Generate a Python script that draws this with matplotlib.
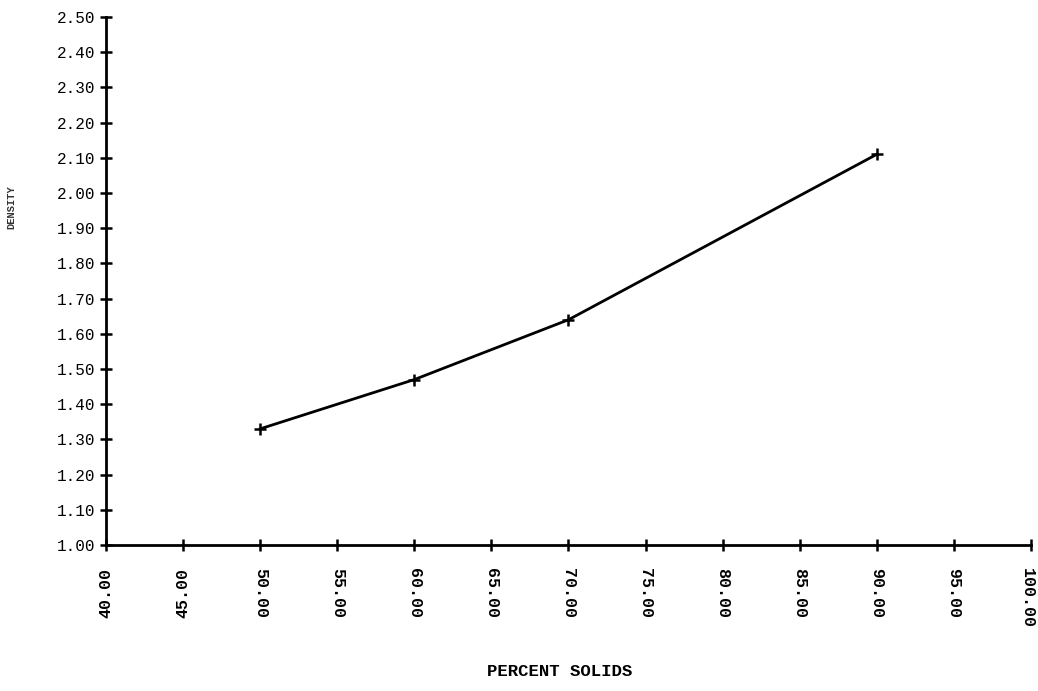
import matplotlib
matplotlib.use("Agg")
import matplotlib.pyplot as plt
import matplotlib.transforms as mtransforms
import numpy as np

# Slurry density versus percent solids
percent_solids = [50.0, 60.0, 70.0, 90.0]
density = [1.33, 1.47, 1.64, 2.11]

x_ticks = [40, 45, 50, 55, 60, 65, 70, 75, 80, 85, 90, 95, 100]
y_ticks = [1.00, 1.10, 1.20, 1.30, 1.40, 1.50, 1.60, 1.70, 1.80, 1.90,
           2.00, 2.10, 2.20, 2.30, 2.40, 2.50]

x_title = "PERCENT SOLIDS"
y_title = "DENSITY"

mono = "Liberation Mono"

fig = plt.figure(figsize=(10.38, 6.91), dpi=100)
ax = fig.add_axes([106 / 1038, 146 / 691, (1031 - 106) / 1038, (545 - 17) / 691])

ax.plot(percent_solids, density, color="black", lw=2.0,
        marker="+", markersize=9, markeredgewidth=1.8, clip_on=False)

ax.set_xlim(40, 100)
ax.set_ylim(1.0, 2.5)

for side in ("top", "right"):
    ax.spines[side].set_visible(False)
for side in ("left", "bottom"):
    ax.spines[side].set_linewidth(2.0)

ax.set_xticks(x_ticks)
ax.set_yticks(y_ticks)
ax.set_xticklabels([f"{v:.2f}" for v in x_ticks], family=mono,
                   fontsize=12, fontweight="bold", rotation=-90)
ax.set_yticklabels([f"{v:.2f}" for v in y_ticks], family=mono,
                   fontsize=11.5, color="#222222")

ax.tick_params(axis="both", direction="inout", length=9, width=1.8,
               colors="black")
ax.tick_params(axis="x", pad=12)
ax.tick_params(axis="y", pad=3)

xlabels = ax.get_xticklabels()
# the first two abscissa labels are printed turned the other way
for lbl in xlabels[:2]:
    lbl.set_rotation(90)
# keep the last label inside the sheet
shift = mtransforms.ScaledTranslation(-4 / 100, 0, fig.dpi_scale_trans)
xlabels[-1].set_transform(xlabels[-1].get_transform() + shift)

fig.text(560 / 1038, 1 - 672 / 691, x_title, family=mono, fontsize=12.5,
         fontweight="bold", ha="center", va="center")
fig.text(11 / 1038, 1 - 207 / 691, y_title, family=mono, fontsize=7.5,
         fontweight="bold", rotation=90, ha="center", va="center",
         color="#333333")

fig.savefig("out.png", dpi=100, facecolor="white")
